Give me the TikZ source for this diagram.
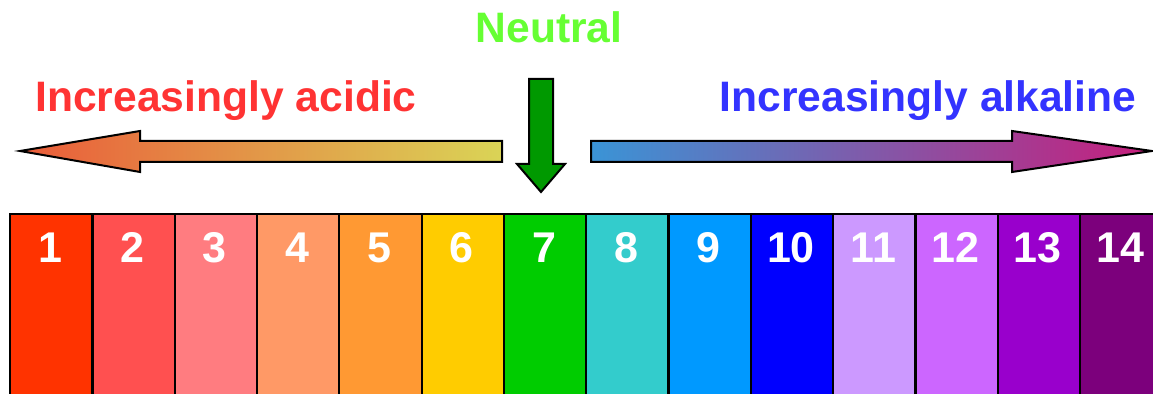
\documentclass[tikz,border=0pt]{standalone}
\usepackage{fontspec}
\setmainfont{Liberation Sans}

\definecolor{ph1}{HTML}{FF3300}
\definecolor{ph2}{HTML}{FF5050}
\definecolor{ph3}{HTML}{FF7C80}
\definecolor{ph4}{HTML}{FF9966}
\definecolor{ph5}{HTML}{FF9933}
\definecolor{ph6}{HTML}{FFCC00}
\definecolor{ph7}{HTML}{00CC00}
\definecolor{ph8}{HTML}{33CCCC}
\definecolor{ph9}{HTML}{0099FF}
\definecolor{ph10}{HTML}{0000FF}
\definecolor{ph11}{HTML}{CC99FF}
\definecolor{ph12}{HTML}{CC66FF}
\definecolor{ph13}{HTML}{9900CC}
\definecolor{ph14}{HTML}{7C007C}
\definecolor{acidred}{HTML}{FF3333}
\definecolor{alkblue}{HTML}{3333FF}
\definecolor{neutgreen}{HTML}{66FF33}
\definecolor{acidstart}{HTML}{EA5C3A}
\definecolor{acidend}{HTML}{DAD456}
\definecolor{alkstart}{HTML}{3A94D6}
\definecolor{alkend}{HTML}{C81E7C}

\begin{document}
\begin{tikzpicture}[x=0.5pt, y=-0.5pt,
    phbox/.style={draw=black, line width=1.1pt, anchor=north west, inner sep=0pt,
      minimum width=41.15pt, minimum height=93.5pt},
    phnum/.style={text=white, anchor=base, font=\fontsize{21.5}{25}\selectfont\bfseries},
    heading/.style={anchor=base, font=\fontsize{21.3}{25}\selectfont\bfseries},
    arrowshape/.style={draw=black, line width=1pt, line join=miter}]
    \useasboundingbox (0,0) rectangle (1153,394);
    \clip (0,0) rectangle (1153,394);

    % pH scale
    \foreach \i in {1,...,14} {
      \node[phbox, fill=ph\i] (p\i) at ({9+(\i-1)*82.3},213) {};
      \node[phnum] (n\i) at ([xshift=-0.5pt, yshift=-25pt]p\i.north) {\i};
    }

    % headings
    \node[heading, text=neutgreen] (neutral) at (549,43) {Neutral};
    \node[heading, text=acidred] (acidic) at (226,112) {Increasingly acidic};
    \node[heading, text=alkblue] (alkaline) at (928,112) {Increasingly alkaline};

    % arrows
    \shadedraw[arrowshape, left color=acidstart, right color=acidend]
      (20,151) -- (140,131) -- (140,141) -- (502,141) -- (502,162) -- (140,162) -- (140,172) -- cycle;
    \shadedraw[arrowshape, left color=alkstart, right color=alkend]
      (591,141) -- (1012,141) -- (1012,131) -- (1152,151) -- (1012,172) -- (1012,162) -- (591,162) -- cycle;
    \filldraw[arrowshape, fill=ph7!75!black]
      (529,79) -- (553,79) -- (553,164) -- (565,164) -- (541,192) -- (517,164) -- (529,164) -- cycle;
\end{tikzpicture}
\end{document}
